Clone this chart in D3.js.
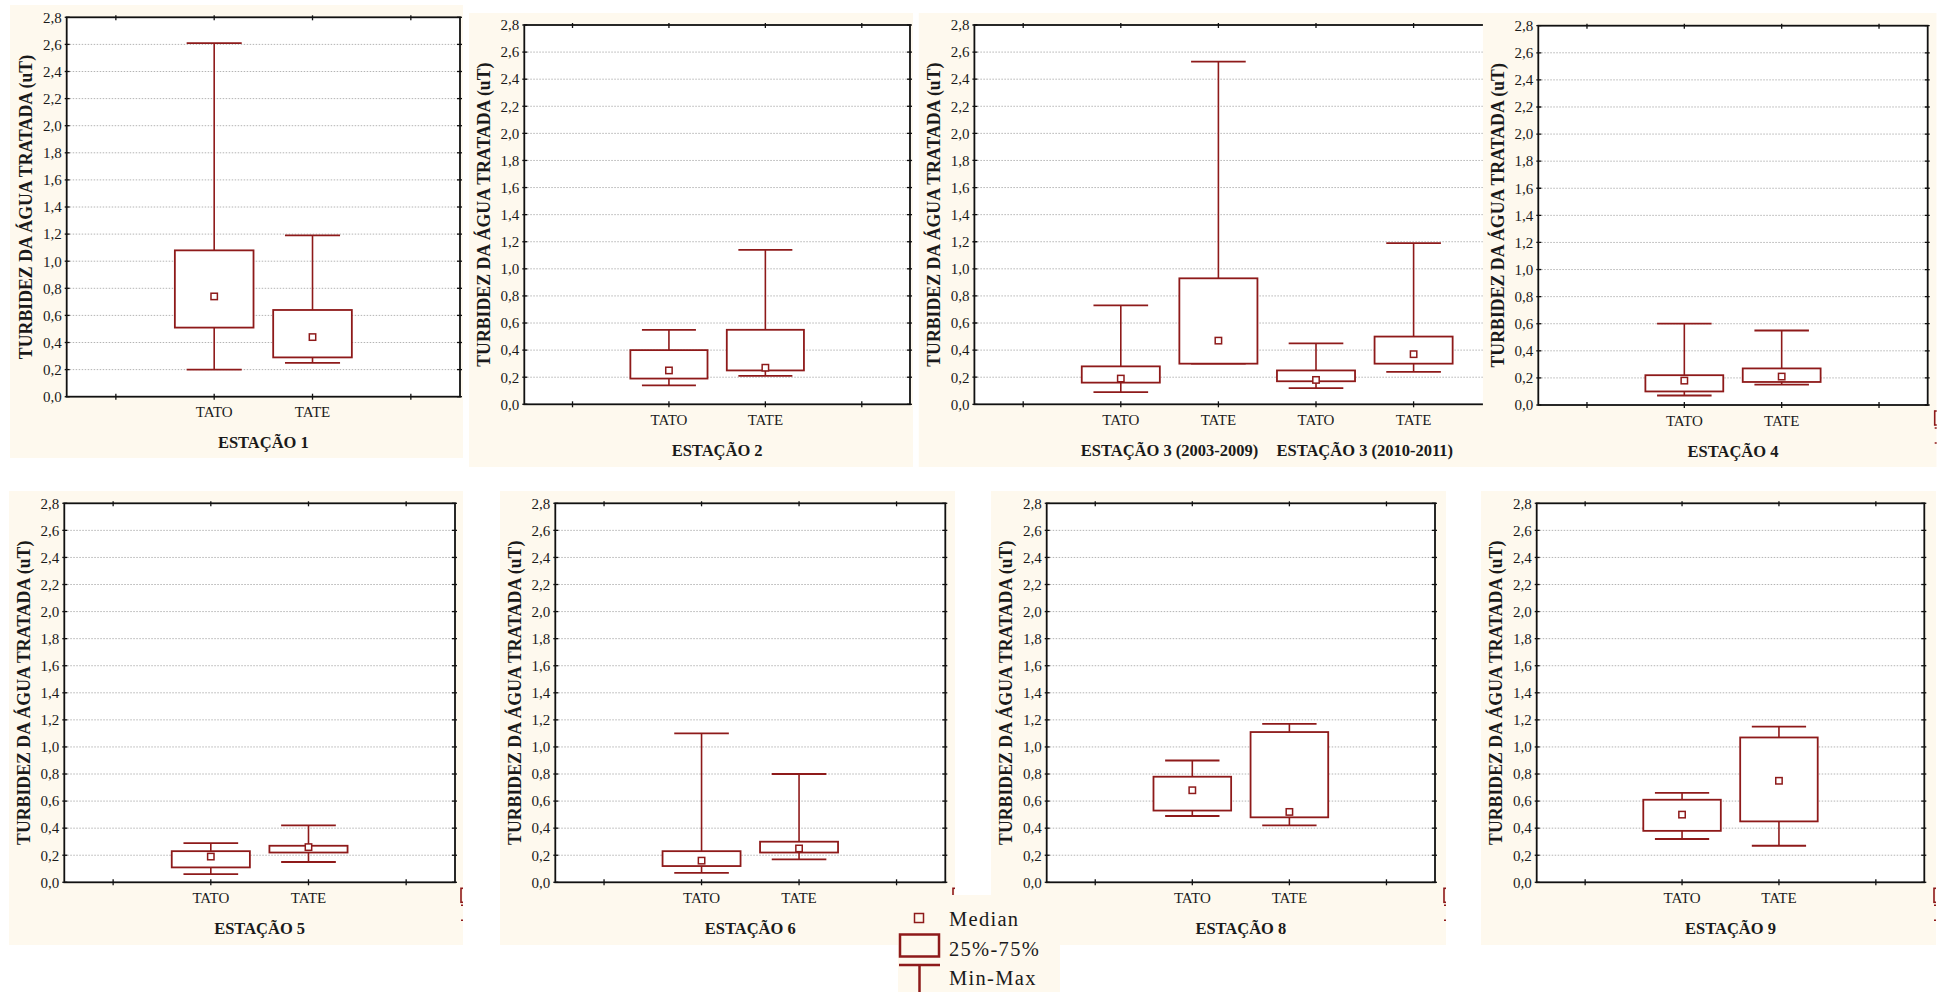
<!DOCTYPE html>
<html>
<head>
<meta charset="utf-8">
<script src="https://cdn.jsdelivr.net/npm/d3@7"></script>
<style>
  html, body { margin: 0; padding: 0; background: #ffffff; }
  svg { display: block; }
</style>
</head>
<body>
<svg id="chart" width="1941" height="992"></svg>
<script>
// ---- values (turbidity of treated water, uT) ----
const groupLabels = ["TATO", "TATE"];
const stationLabels = [
  "ESTAÇÃO 1", "ESTAÇÃO 2", "ESTAÇÃO 3 (2003-2009)", "ESTAÇÃO 3 (2010-2011)",
  "ESTAÇÃO 4", "ESTAÇÃO 5", "ESTAÇÃO 6", "ESTAÇÃO 8", "ESTAÇÃO 9"
];
// one pair [TATO, TATE] per station, same order as stationLabels
const minValues    = [[0.20, 0.25], [0.14, 0.21], [0.09, 0.30], [0.12, 0.24], [0.07, 0.15], [0.06, 0.15], [0.07, 0.17], [0.49, 0.42], [0.32, 0.27]];
const q1Values     = [[0.51, 0.29], [0.19, 0.25], [0.16, 0.30], [0.17, 0.30], [0.10, 0.17], [0.11, 0.22], [0.12, 0.22], [0.53, 0.48], [0.38, 0.45]];
const medianValues = [[0.74, 0.44], [0.25, 0.27], [0.19, 0.47], [0.18, 0.37], [0.18, 0.21], [0.19, 0.26], [0.16, 0.25], [0.68, 0.52], [0.50, 0.75]];
const q3Values     = [[1.08, 0.64], [0.40, 0.55], [0.28, 0.93], [0.25, 0.50], [0.22, 0.27], [0.23, 0.27], [0.23, 0.30], [0.78, 1.11], [0.61, 1.07]];
const maxValues    = [[2.61, 1.19], [0.55, 1.14], [0.73, 2.53], [0.45, 1.19], [0.60, 0.55], [0.29, 0.42], [1.10, 0.80], [0.90, 1.17], [0.66, 1.15]];

const yTicks = [0.0, 0.2, 0.4, 0.6, 0.8, 1.0, 1.2, 1.4, 1.6, 1.8, 2.0, 2.2, 2.4, 2.6, 2.8];
const yTickLabels = ["0,0", "0,2", "0,4", "0,6", "0,8", "1,0", "1,2", "1,4", "1,6", "1,8", "2,0", "2,2", "2,4", "2,6", "2,8"];
const yTitle = "TURBIDEZ DA ÁGUA TRATADA (uT)";
const legendLabels = ["Median", "25%-75%", "Min-Max"];

// ---- page layout of the panels ----
// card: cream background; plot: framed area; stations: indices into stationLabels;
// frag: draws the clipped legend stub at the card's right edge
const panels = [
  { card: [10, 5, 463, 458],        plot: [66.7, 17.3, 460, 396.7],     stations: [0],    frag: false },
  { card: [469, 13, 913, 467],      plot: [524.3, 25, 910, 404.3],      stations: [1],    frag: false },
  { card: [918.5, 13, 1580, 467],   plot: [974.4, 25, 1560, 404.3],     stations: [2, 3], frag: false },
  { card: [1482.7, 13, 1936.7, 467],plot: [1538.3, 25.7, 1927.7, 405],  stations: [4],    frag: true },
  { card: [9, 491, 463, 945],       plot: [64.3, 503.3, 455, 882.3],    stations: [5],    frag: true },
  { card: [500, 491, 955, 945],     plot: [555.3, 503.3, 945.3, 882.3], stations: [6],    frag: true },
  { card: [991, 491, 1446, 945],    plot: [1046.7, 503.3, 1435, 882.3], stations: [7],    frag: true },
  { card: [1481, 491, 1936, 945],   plot: [1536.7, 503.3, 1924.3, 882.3], stations: [8],  frag: true }
];

const RED = "#8e1a1a";
const CREAM = "#fef9ee";
const FONT = "'Liberation Serif', Tinos, 'Times New Roman', 'DejaVu Serif', serif";
const svg = d3.select("#chart");

panels.forEach((p, pi) => {
  const [cx0, cy0, cx1, cy1] = p.card;
  const [pl, pt, pr, pb] = p.plot;
  const clipId = "clip" + pi;
  svg.append("clipPath").attr("id", clipId)
    .append("rect").attr("x", cx0).attr("y", cy0).attr("width", cx1 - cx0).attr("height", cy1 - cy0);

  const g = svg.append("g").attr("clip-path", `url(#${clipId})`)
    .attr("font-family", FONT).attr("fill", "#1a1a1a");
  g.append("rect").attr("x", cx0).attr("y", cy0).attr("width", cx1 - cx0).attr("height", cy1 - cy0)
    .attr("fill", CREAM);

  // category slots: an empty slot at each end, two groups per station in between
  const slots = ["pad0"];
  p.stations.forEach(s => groupLabels.forEach((gl, gi) => slots.push(s + "_" + gi)));
  slots.push("pad1");

  const x = d3.scalePoint().domain(slots).range([pl, pr]).padding(0.5);
  const y = d3.scaleLinear().domain([0, 2.8]).range([pb, pt]);
  const step = x.step();

  g.append("rect").attr("x", pl).attr("y", pt).attr("width", pr - pl).attr("height", pb - pt)
    .attr("fill", "#ffffff");

  // dotted grid
  g.append("g").selectAll("line").data(yTicks.filter(v => v > 0 && v < 2.8)).join("line")
    .attr("x1", pl).attr("x2", pr).attr("y1", d => y(d)).attr("y2", d => y(d))
    .attr("stroke", "#b4b4b4").attr("stroke-width", 1).attr("stroke-dasharray", "1.5,1.5");

  // y axis labels
  const yAxis = d3.axisLeft(y).tickValues(yTicks).tickSize(0).tickPadding(5)
    .tickFormat((d, i) => yTickLabels[i]);
  const ya = g.append("g").attr("transform", `translate(${pl},0)`).call(yAxis);
  ya.attr("font-family", FONT).attr("font-size", 15);
  ya.select(".domain").remove();
  ya.selectAll("text").attr("fill", "#1a1a1a");

  // tick marks on all four sides
  const tk = g.append("g").attr("stroke", "#111").attr("stroke-width", 1.3);
  yTicks.forEach(v => {
    tk.append("line").attr("x1", pl - 2).attr("x2", pl + 3).attr("y1", y(v)).attr("y2", y(v));
    tk.append("line").attr("x1", pr - 3).attr("x2", pr + 2).attr("y1", y(v)).attr("y2", y(v));
  });
  slots.forEach(s => {
    tk.append("line").attr("x1", x(s)).attr("x2", x(s)).attr("y1", pb - 3).attr("y2", pb + 3);
    tk.append("line").attr("x1", x(s)).attr("x2", x(s)).attr("y1", pt - 2).attr("y2", pt + 3);
  });

  // boxes
  const boxes = [];
  p.stations.forEach(s => groupLabels.forEach((gl, gi) => boxes.push({
    slot: s + "_" + gi, label: gl,
    min: minValues[s][gi], q1: q1Values[s][gi], med: medianValues[s][gi],
    q3: q3Values[s][gi], max: maxValues[s][gi]
  })));

  const bw = step * 0.8, cw = step * 0.56;
  const bg = g.append("g").attr("fill", "none").attr("stroke", RED);
  boxes.forEach(b => {
    const cxp = x(b.slot);
    bg.append("line").attr("x1", cxp).attr("x2", cxp).attr("y1", y(b.min)).attr("y2", y(b.max))
      .attr("stroke-width", 1.6);
    bg.append("line").attr("x1", cxp - cw / 2).attr("x2", cxp + cw / 2).attr("y1", y(b.max)).attr("y2", y(b.max))
      .attr("stroke-width", 1.8);
    bg.append("line").attr("x1", cxp - cw / 2).attr("x2", cxp + cw / 2).attr("y1", y(b.min)).attr("y2", y(b.min))
      .attr("stroke-width", 1.8);
    bg.append("rect").attr("x", cxp - bw / 2).attr("y", y(b.q3)).attr("width", bw).attr("height", y(b.q1) - y(b.q3))
      .attr("fill", "#ffffff").attr("stroke-width", 1.8);
    bg.append("rect").attr("x", cxp - 3.2).attr("y", y(b.med) - 3.2).attr("width", 6.4).attr("height", 6.4)
      .attr("fill", "#ffffff").attr("stroke-width", 1.5);
  });

  // frame
  g.append("rect").attr("x", pl).attr("y", pt).attr("width", pr - pl).attr("height", pb - pt)
    .attr("fill", "none").attr("stroke", "#111").attr("stroke-width", 1.8);

  // category labels
  g.append("g").selectAll("text").data(boxes).join("text")
    .attr("x", d => x(d.slot)).attr("y", pb + 20.6).attr("text-anchor", "middle")
    .attr("font-size", 15).text(d => d.label);

  // station labels, centred under each pair
  g.append("g").selectAll("text").data(p.stations).join("text")
    .attr("x", s => (x(s + "_0") + x(s + "_1")) / 2).attr("y", pb + 51.6).attr("text-anchor", "middle")
    .attr("font-size", 16.5).attr("font-weight", "bold").text(s => stationLabels[s]);

  // y title
  g.append("text")
    .attr("transform", `translate(${pl - 40.7},${(pt + pb) / 2}) rotate(-90)`)
    .attr("text-anchor", "middle").attr("dominant-baseline", "central")
    .attr("font-size", 17.8).attr("font-weight", "bold").text(yTitle);

  // legend stub cut off at the card's right edge
  if (p.frag) {
    const fx = cx1 - 2;
    const fg = g.append("g").attr("stroke", RED).attr("fill", "none");
    fg.append("rect").attr("x", fx).attr("y", pb + 6).attr("width", 10).attr("height", 14).attr("stroke-width", 1.6);
    fg.append("line").attr("x1", fx).attr("x2", fx + 10).attr("y1", pb + 23).attr("y2", pb + 23).attr("stroke-width", 1.6);
    fg.append("line").attr("x1", fx).attr("x2", fx + 10).attr("y1", pb + 38).attr("y2", pb + 38).attr("stroke-width", 1.6);
  }
});

// ---- legend ----
const lg = svg.append("g").attr("font-family", FONT).attr("fill", "#1a1a1a");
lg.append("rect").attr("x", 898).attr("y", 895).attr("width", 162).attr("height", 97).attr("fill", CREAM);
lg.append("rect").attr("x", 914.5).attr("y", 913.5).attr("width", 9).attr("height", 9)
  .attr("fill", "none").attr("stroke", RED).attr("stroke-width", 1.5);
lg.append("rect").attr("x", 900).attr("y", 934.5).attr("width", 39).attr("height", 22)
  .attr("fill", "none").attr("stroke", RED).attr("stroke-width", 2.5);
lg.append("line").attr("x1", 899).attr("x2", 940).attr("y1", 965).attr("y2", 965)
  .attr("stroke", RED).attr("stroke-width", 2.5);
lg.append("line").attr("x1", 919.5).attr("x2", 919.5).attr("y1", 965).attr("y2", 992)
  .attr("stroke", RED).attr("stroke-width", 2.5);
lg.selectAll("text.leg").data(legendLabels).join("text").attr("class", "leg")
  .attr("x", 949).attr("y", (d, i) => [925.5, 956, 984.5][i])
  .attr("font-size", 20.5).attr("letter-spacing", 1.3).text(d => d);
</script>
</body>
</html>
